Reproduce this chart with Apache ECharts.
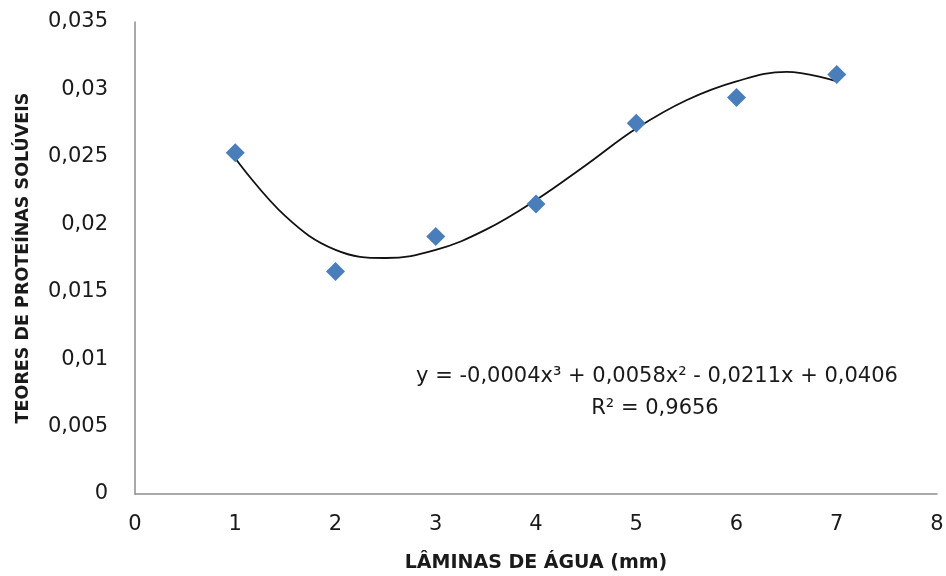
<!DOCTYPE html>
<html>
<head>
<meta charset="utf-8">
<script src="https://cdn.jsdelivr.net/npm/echarts@6/dist/echarts.min.js"></script>
<style>
  html, body { margin: 0; padding: 0; background: #fff; }
  #chart { width: 946px; height: 576px; }
</style>
</head>
<body>
<div id="chart"></div>
<script>
// observed points
const laminas = [1, 2, 3, 4, 5, 6, 7];
const proteinas = [0.0253, 0.0165, 0.0191, 0.0215, 0.0275, 0.0294, 0.0311];

// trend curve
const trendX = [1, 1.5, 2, 2.5, 3, 3.5, 4, 4.5, 5, 5.5, 6, 6.5, 7];
const trendY = [0.0249, 0.0206, 0.0181, 0.0175, 0.0181, 0.0196, 0.0218, 0.0244, 0.0271, 0.0292, 0.0306, 0.0313, 0.0306];

const equation = "y = -0,0004x³ + 0,0058x² - 0,0211x + 0,0406";
const rSquared = "R² = 0,9656";

const font = "'DejaVu Sans', sans-serif";
const chart = echarts.init(document.getElementById("chart"));

const option = {
  animation: false,
  grid: { left: 135, right: 9, top: 22, bottom: 82, outerBoundsMode: "none" },
  xAxis: {
    type: "value",
    min: 0,
    max: 8,
    interval: 1,
    name: "LÂMINAS DE ÁGUA (mm)",
    nameLocation: "middle",
    nameGap: 60,
    nameTextStyle: { fontFamily: font, fontSize: 19, fontWeight: "bold", color: "#1a1a1a" },
    axisLine: { lineStyle: { color: "#8c8c8c", width: 1.5 } },
    axisTick: { show: false },
    splitLine: { show: false },
    axisLabel: { margin: 20, fontFamily: font, fontSize: 21, color: "#1a1a1a" }
  },
  yAxis: {
    type: "value",
    min: 0,
    max: 0.035,
    interval: 0.005,
    name: "TEORES DE PROTEÍNAS SOLÚVEIS",
    nameLocation: "middle",
    nameGap: 103,
    nameTextStyle: { fontFamily: font, fontSize: 17.5, fontWeight: "bold", color: "#1a1a1a" },
    axisLine: { show: true, lineStyle: { color: "#8c8c8c", width: 1.5 } },
    axisTick: { show: false },
    splitLine: { show: false },
    axisLabel: {
      margin: 27,
      fontFamily: font,
      fontSize: 21,
      color: "#1a1a1a",
      formatter: v => String(+v.toFixed(3)).replace(".", ",")
    }
  },
  series: [
    {
      type: "line",
      data: trendX.map((x, i) => [x, trendY[i]]),
      smooth: 0.4,
      showSymbol: false,
      lineStyle: { color: "#111", width: 1.8 },
      z: 1
    },
    {
      type: "scatter",
      data: laminas.map((x, i) => [x, proteinas[i]]),
      symbol: "diamond",
      symbolSize: 19,
      itemStyle: { color: "#4a7ebb", opacity: 1 },
      z: 2
    }
  ],
  graphic: [
    {
      type: "text",
      x: 657,
      y: 377,
      style: { text: equation, align: "center", verticalAlign: "middle", font: "21px " + font, fill: "#1a1a1a" }
    },
    {
      type: "text",
      x: 655,
      y: 409,
      style: { text: rSquared, align: "center", verticalAlign: "middle", font: "21px " + font, fill: "#1a1a1a" }
    }
  ]
};

chart.setOption(option);
</script>
</body>
</html>
